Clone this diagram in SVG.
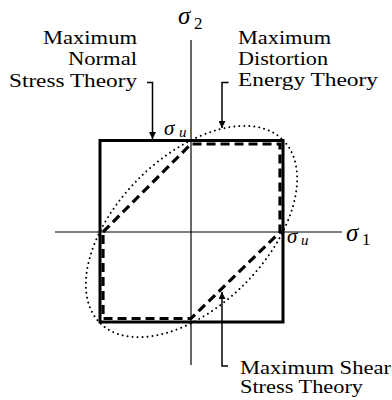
<svg xmlns="http://www.w3.org/2000/svg" width="392" height="400" viewBox="0 0 392 400">
<style>
.lbl{font-family:"Liberation Serif","DejaVu Serif","Times New Roman",serif;font-size:19px;fill:#000}
.sym{font-family:"Liberation Serif","DejaVu Serif","Times New Roman",serif;font-style:italic;fill:#000}
.sub{font-family:"Liberation Serif","DejaVu Serif","Times New Roman",serif;fill:#000}
.axis{stroke:#000;stroke-width:1.2;fill:none}
.sq{stroke:#000;stroke-width:3;fill:none}
.dash{stroke:#000;stroke-width:3.2;fill:none;stroke-dasharray:9 5}
.dot{stroke:#000;stroke-width:2;fill:none;stroke-dasharray:0 5;stroke-linecap:round}
.lead{stroke:#000;stroke-width:1.5;fill:none}
</style>
<defs>
<marker id="ah" viewBox="0 0 10 10" refX="10" refY="5" markerWidth="7" markerHeight="7" markerUnits="userSpaceOnUse" orient="auto">
<path d="M0,0 L10,5 L0,10 Z" fill="#000"/>
</marker>
</defs>
<g id="axes">
<line class="axis" x1="191" y1="40" x2="191" y2="365"/>
<line class="axis" x1="55" y1="232" x2="342" y2="232"/>
</g>
<g id="max-normal-stress-square">
<rect class="sq" x="100" y="140.5" width="183" height="181.5"/>
</g>
<g id="max-shear-hexagon">
<path class="dash" d="M103,232 L191,144 L280,144 L280,232 L191,318.5 L103,318.5 Z"/>
</g>
<g id="distortion-energy-ellipse">
<ellipse class="dot" cx="191.5" cy="231.5" rx="129.4" ry="74.7" transform="rotate(-45 191.5 231.5)"/>
</g>
<g id="label-normal">
<text class="lbl" x="43" y="44" textLength="94" lengthAdjust="spacingAndGlyphs">Maximum</text>
<text class="lbl" x="68" y="65" textLength="69" lengthAdjust="spacingAndGlyphs">Normal</text>
<text class="lbl" x="9" y="86.5" textLength="128" lengthAdjust="spacingAndGlyphs">Stress Theory</text>
</g>
<g id="label-distortion">
<text class="lbl" x="238" y="44" textLength="93" lengthAdjust="spacingAndGlyphs">Maximum</text>
<text class="lbl" x="238" y="65" textLength="90" lengthAdjust="spacingAndGlyphs">Distortion</text>
<text class="lbl" x="238" y="86" textLength="140" lengthAdjust="spacingAndGlyphs">Energy Theory</text>
</g>
<g id="label-shear">
<text class="lbl" x="240" y="374" textLength="151" lengthAdjust="spacingAndGlyphs">Maximum Shear</text>
<text class="lbl" x="240" y="393" textLength="123" lengthAdjust="spacingAndGlyphs">Stress Theory</text>
</g>
<g id="symbols">
<text class="sym" x="178" y="24" font-size="25">σ</text><text class="sub" x="194" y="29" font-size="17">2</text>
<text class="sym" x="164" y="135" font-size="21">σ</text><text class="sym" x="179" y="137" font-size="15">u</text>
<text class="sym" x="346" y="241" font-size="25">σ</text><text class="sub" x="362" y="245" font-size="17">1</text>
<text class="sym" x="287" y="243" font-size="21">σ</text><text class="sym" x="301" y="245" font-size="15">u</text>
</g>
<g id="connectors">
<path class="lead" d="M147,82.5 L152.5,82.5 L152.5,139" marker-end="url(#ah)"/>
<path class="lead" d="M228.5,82.5 L222,82.5 L222,128" marker-end="url(#ah)"/>
<path class="lead" d="M228,366 L222,366 L222,292" marker-end="url(#ah)"/>
</g>
</svg>
